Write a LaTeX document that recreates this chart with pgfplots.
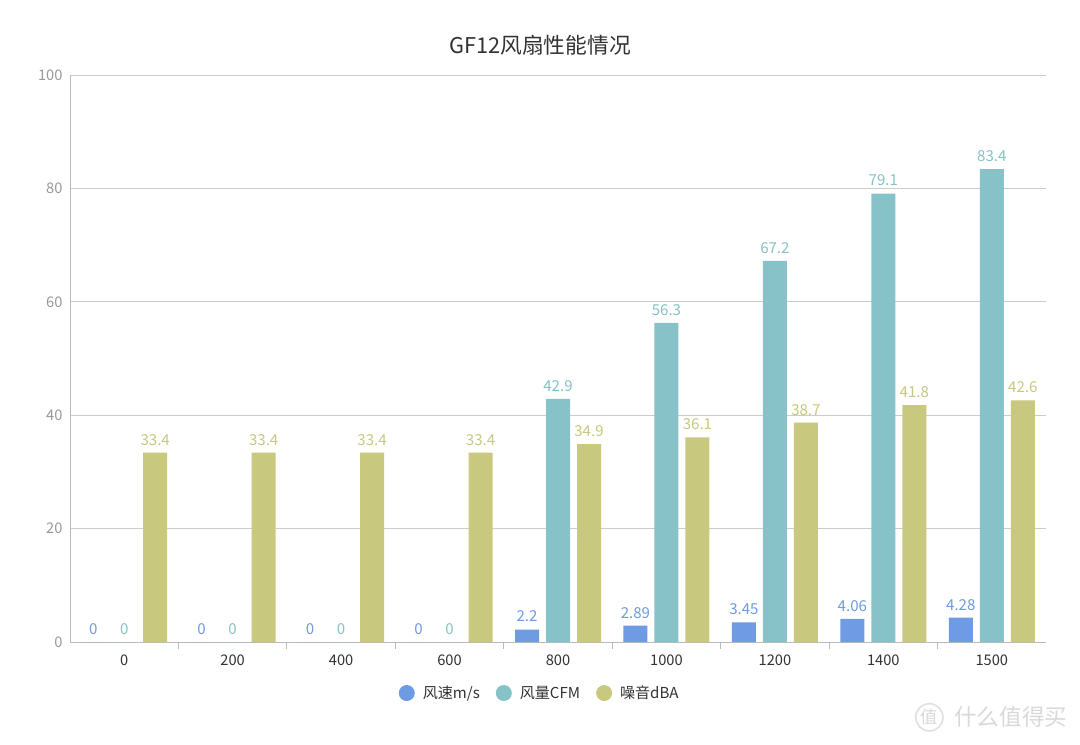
\documentclass[border=0pt]{standalone}
\usepackage{fontspec}
\setmainfont{Noto Sans CJK SC}
\usepackage{pgfplots}
\pgfplotsset{compat=1.18}
\definecolor{cblue}{HTML}{6E9BE3}
\definecolor{cteal}{HTML}{86C2C8}
\definecolor{colive}{HTML}{C8C87E}
\definecolor{gridc}{HTML}{CCCCCC}
\definecolor{axc}{HTML}{BBBBBB}
\definecolor{tickc}{HTML}{999999}
\definecolor{txt}{HTML}{333333}
\begin{document}
\begin{tikzpicture}[x=1pt,y=1pt]
\fill[white] (0,0) rectangle (810,558);
\useasboundingbox (0,0) rectangle (810,558);
\node[text=txt, font=\fontsize{16.3}{19}\selectfont] at (405,524) {GF12风扇性能情况};
\begin{axis}[
  at={(52.5pt,76.5pt)}, anchor=south west, scale only axis,
  width=732pt, height=425.25pt,
  xmin=-0.5, xmax=8.5, ymin=0, ymax=100,
  /pgf/number format/assume math mode=true,
  ytick={0,20,...,100},
  ymajorgrids, grid style={gridc, line width=0.6pt},
  xtick={0,...,8},
  xticklabels={0,200,400,600,800,1000,1200,1400,1500},
  major tick style={draw=none},
  minor xtick={0.5,1.5,...,7.5},
  minor x tick style={axc, line width=0.6pt},
  minor tick length=5pt, tick align=inside,
  axis x line=bottom, axis y line=left,
  axis line style={axc, -, line width=0.6pt},
  yticklabel style={text=tickc, font=\fontsize{11}{13}\selectfont},
  xticklabel style={text=txt, font=\fontsize{11}{13}\selectfont, yshift=-2pt},
  ybar=5.25pt, bar width=18pt,
  nodes near coords,
  every node near coord/.append style={font=\fontsize{11.3}{13}\selectfont, yshift=2pt},
  legend columns=3,
  legend style={at={(0.4816,-0.09)}, anchor=center, draw=none, fill=none,
    font=\fontsize{11.3}{13}\selectfont, text=txt,
    /tikz/every even column/.append style={column sep=10pt}},
]
\addplot[fill=cblue, draw=none,
  every node near coord/.append style={text=cblue},
  legend image code/.code={\fill[cblue] (2pt,0) circle (6pt);}]
  coordinates {(0,0) (1,0) (2,0) (3,0) (4,2.2) (5,2.89) (6,3.45) (7,4.06) (8,4.28)};
\addlegendentry{\hspace{4pt}风速m/s}
\addplot[fill=cteal, draw=none,
  every node near coord/.append style={text=cteal},
  legend image code/.code={\fill[cteal] (2pt,0) circle (6pt);}]
  coordinates {(0,0) (1,0) (2,0) (3,0) (4,42.9) (5,56.3) (6,67.2) (7,79.1) (8,83.4)};
\addlegendentry{\hspace{4pt}风量CFM}
\addplot[fill=colive, draw=none,
  every node near coord/.append style={text=colive},
  legend image code/.code={\fill[colive] (2pt,0) circle (6pt);}]
  coordinates {(0,33.4) (1,33.4) (2,33.4) (3,33.4) (4,34.9) (5,36.1) (6,38.7) (7,41.8) (8,42.6)};
\addlegendentry{\hspace{4pt}噪音dBA}
\end{axis}
\node[circle, draw=black!12, line width=1.2pt, inner sep=1pt, text=black!15, font=\fontsize{13}{15}\selectfont] at (697,20) {值};
\node[anchor=west, text=black!15, font=\fontsize{17}{19}\selectfont] at (712,20) {什么值得买};
\end{tikzpicture}
\end{document}
